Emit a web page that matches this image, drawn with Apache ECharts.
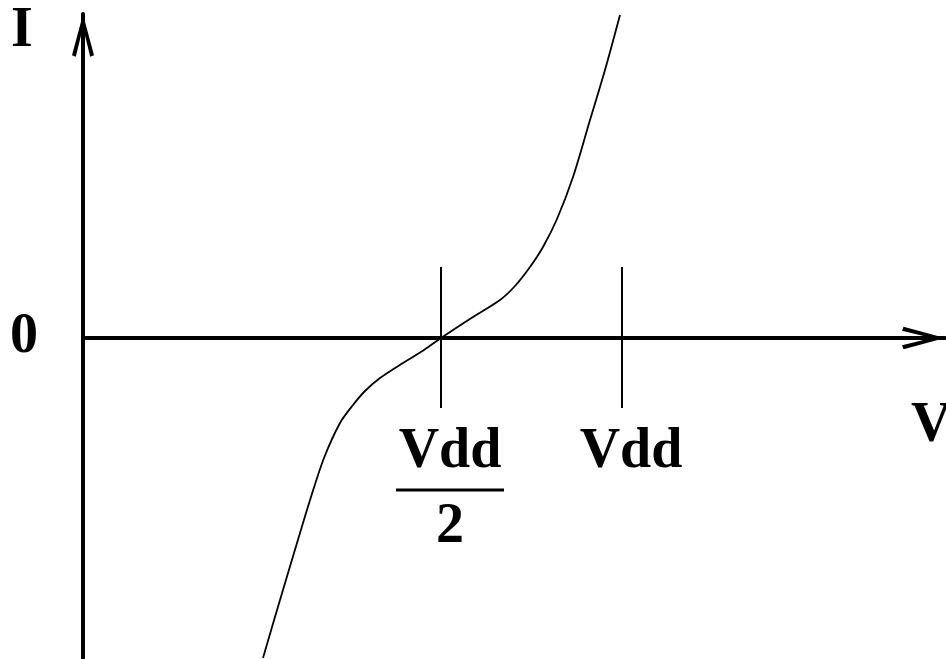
<!DOCTYPE html>
<html>
<head>
<meta charset="utf-8">
<script src="https://cdn.jsdelivr.net/npm/echarts@6/dist/echarts.min.js"></script>
<style>
  html, body { margin: 0; padding: 0; background: #fff; }
  #chart { width: 946px; height: 659px; }
</style>
</head>
<body>
<div id="chart"></div>
<script>
// curve (V and I in arbitrary units)
const curveV = [1.80, 1.97, 2.14, 2.28, 2.41, 2.57, 2.70, 2.82, 2.97, 3.20, 3.41, 3.58,
    3.90, 4.17, 4.32, 4.47, 4.60, 4.74, 4.90, 5.07, 5.22, 5.37];
const curveI = [-3.20, -2.62, -2.05, -1.59, -1.20, -0.85, -0.67, -0.53, -0.40, -0.25, -0.12, 0,
    0.21, 0.38, 0.52, 0.71, 0.91, 1.19, 1.61, 2.18, 2.68, 3.23];

// x ticks and their labels
const tickValues = [3.58, 5.39];
const tickLabels = ['Vdd/2', 'Vdd'];
const yTickValues = [0];

const chartDom = document.getElementById('chart');
const myChart = echarts.init(chartDom);

const font = 'Liberation Serif';
// open chevron pointing up, used as arrow head on both axes
const arrowPath = 'path://M11,0 L22,41 L18.2,42.5 L11,13 L3.8,42.5 L0,41 Z';

const lineData = curveV.map((v, i) => [v, curveI[i]]);

// grid
let grid = {
    left: 83,
    right: 1,
    top: 14,
    bottom: 0,
    containLabel: false,
    outerBoundsMode: 'none'
};

// xAxis
let xAxis = {
    type: 'value',
    min: 0,
    max: 8.62,
    axisLine: {
        onZero: true,
        symbol: ['none', arrowPath],
        symbolSize: [24, 43],
        symbolOffset: [0, -21.5],
        lineStyle: { color: '#000', width: 4 }
    },
    axisTick: { show: false },
    splitLine: { show: false },
    axisLabel: { show: false }
};

// yAxis
let yAxis = {
    type: 'value',
    min: -3.21,
    max: 3.24,
    axisLine: {
        onZero: true,
        symbol: ['none', arrowPath],
        symbolSize: [22, 43],
        symbolOffset: [0, -21.5],
        lineStyle: { color: '#000', width: 4 }
    },
    axisTick: { show: false },
    splitLine: { show: false },
    axisLabel: {
        customValues: yTickValues,
        margin: 45,
        fontFamily: font,
        fontWeight: 'bold',
        fontSize: 56,
        color: '#000'
    }
};

// series
let series = [{
    name: 'I-V',
    type: 'line',
    data: lineData,
    smooth: 0.3,
    showSymbol: false,
    lineStyle: { color: '#000', width: 1.8 },
    // tick marks on the V axis, with their labels under them
    markLine: {
        silent: true,
        symbol: ['none', 'none'],
        lineStyle: { color: '#000', width: 2, type: 'solid' },
        label: {
            show: true,
            position: 'end',
            distance: 20,
            padding: [0, 0, 0, 18],
            color: '#000',
            formatter: (params) => {
                const txt = tickLabels[params.dataIndex] || '';
                if (txt.indexOf('/') > -1) {
                    const [num, den] = txt.split('/');
                    return '{n|' + num + '}\n{bar|}\n{d|' + den + '}';
                }
                return '{n|' + txt + '}';
            },
            rich: {
                n: { fontFamily: font, fontWeight: 'bold', fontSize: 56, lineHeight: 50, color: '#000' },
                bar: { width: 108, height: 3, backgroundColor: '#000', lineHeight: 24 },
                d: { fontFamily: font, fontWeight: 'bold', fontSize: 56, lineHeight: 52, color: '#000' }
            }
        },
        data: tickValues.map(v => [{ coord: [v, 0.71] }, { coord: [v, -0.70] }])
    }
}];

// axis names as plain text
let graphic = [
    {
        type: 'text', x: 11, y: 32,
        style: { text: 'I', fontFamily: font, fontWeight: 'bold', fontSize: 56, fill: '#000', align: 'left', verticalAlign: 'middle' }
    },
    {
        type: 'text', x: 911, y: 427,
        style: { text: 'V', fontFamily: font, fontWeight: 'bold', fontSize: 56, fill: '#000', align: 'left', verticalAlign: 'middle' }
    }
];

const option = {
    animation: false,
    grid,
    xAxis,
    yAxis,
    series,
    graphic
};

option && myChart.setOption(option);
</script>
</body>
</html>
